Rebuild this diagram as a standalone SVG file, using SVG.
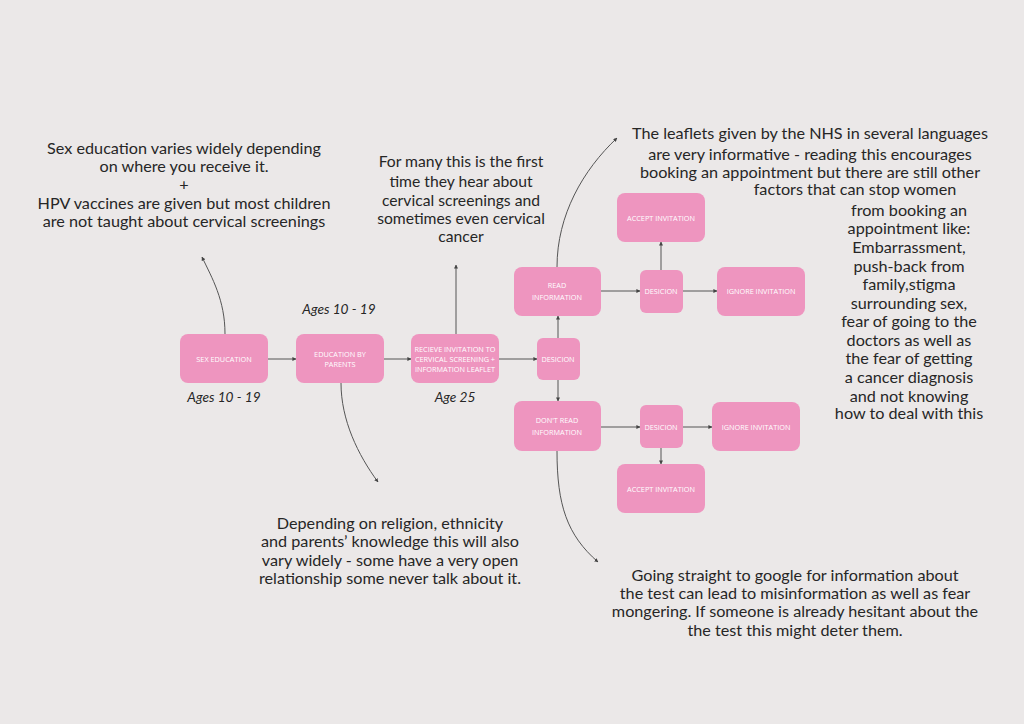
<svg xmlns="http://www.w3.org/2000/svg" width="1024" height="724" viewBox="0 0 1024 724">
<defs>
<marker id="ah" viewBox="0 0 10 10" refX="9" refY="5" markerWidth="4" markerHeight="4" orient="auto" markerUnits="userSpaceOnUse">
<path d="M0,0 L10,5 L0,10 z" fill="#444"/>
</marker>
<style>
.node{fill:#ee95bf;}
.nt{font-family:"Open Sans","Liberation Sans",sans-serif;font-size:7.3px;fill:#ffffff;text-anchor:middle;}
.ann{font-family:Lato,"Liberation Sans",sans-serif;font-size:16.2px;fill:#262626;text-anchor:middle;}
.ann2{font-family:Lato,"Liberation Sans",sans-serif;font-size:15.7px;fill:#262626;text-anchor:middle;}
.age{font-family:Lato,"Liberation Sans",sans-serif;font-size:13.7px;font-style:italic;fill:#262626;text-anchor:middle;}
.c{fill:none;stroke:#555;stroke-width:1;marker-end:url(#ah);}
</style>
</defs>
<rect width="1024" height="724" fill="#ebe8e8"/>

<g id="connectors">
<path class="c" d="M268,359 L296,359"/>
<path class="c" d="M384,359 L411,359"/>
<path class="c" d="M499,359 L537,359"/>
<path class="c" d="M558,338 L558,316"/>
<path class="c" d="M558,380 L558,401"/>
<path class="c" d="M601,291 L640,291"/>
<path class="c" d="M661,270 L661,242"/>
<path class="c" d="M683,291 L717,291"/>
<path class="c" d="M601,427 L640,427"/>
<path class="c" d="M683,427 L712,427"/>
<path class="c" d="M661,448 L661,464"/>
<path class="c" d="M225,334 C225,300 212,278 202,257"/>
<path class="c" d="M341,383 C341,420 358,455 378,482"/>
<path class="c" d="M456,334 L456,265"/>
<path class="c" d="M557,267 C557,215 583,170 617,138"/>
<path class="c" d="M557,451 C557,505 567,535 598,562"/>
</g>

<g id="n-sex-education">
<rect class="node" x="180" y="334" width="88" height="49" rx="8"/>
<text class="nt" x="224" y="362">SEX EDUCATION</text>
</g>
<g id="n-education-parents">
<rect class="node" x="296" y="334" width="88" height="49" rx="8"/>
<text class="nt" x="340" y="357">EDUCATION BY</text>
<text class="nt" x="340" y="367">PARENTS</text>
</g>
<g id="n-recieve">
<rect class="node" x="411" y="334" width="88" height="49" rx="8"/>
<text class="nt" x="455" y="352">RECIEVE INVITATION TO</text>
<text class="nt" x="455" y="362">CERVICAL SCREENING +</text>
<text class="nt" x="455" y="372">INFORMATION LEAFLET</text>
</g>
<g id="n-desicion-main">
<rect class="node" x="537" y="338" width="43" height="42" rx="6"/>
<text class="nt" x="558" y="362">DESICION</text>
</g>
<g id="n-read">
<rect class="node" x="514" y="267" width="87" height="49" rx="8"/>
<text class="nt" x="557" y="288">READ</text>
<text class="nt" x="557" y="300">INFORMATION</text>
</g>
<g id="n-dont-read">
<rect class="node" x="514" y="401" width="87" height="50" rx="8"/>
<text class="nt" x="557" y="423">DON'T READ</text>
<text class="nt" x="557" y="435">INFORMATION</text>
</g>
<g id="n-desicion-top">
<rect class="node" x="640" y="270" width="43" height="43" rx="6"/>
<text class="nt" x="661" y="294">DESICION</text>
</g>
<g id="n-accept-top">
<rect class="node" x="617" y="193" width="88" height="49" rx="8"/>
<text class="nt" x="661" y="221">ACCEPT INVITATION</text>
</g>
<g id="n-ignore-top">
<rect class="node" x="717" y="267" width="88" height="49" rx="8"/>
<text class="nt" x="761" y="294">IGNORE INVITATION</text>
</g>
<g id="n-desicion-bottom">
<rect class="node" x="640" y="405" width="43" height="43" rx="6"/>
<text class="nt" x="661" y="430">DESICION</text>
</g>
<g id="n-ignore-bottom">
<rect class="node" x="712" y="402" width="88" height="49" rx="8"/>
<text class="nt" x="756" y="430">IGNORE INVITATION</text>
</g>
<g id="n-accept-bottom">
<rect class="node" x="617" y="464" width="88" height="49" rx="8"/>
<text class="nt" x="661" y="492">ACCEPT INVITATION</text>
</g>

<g id="labels">
<text class="age" x="339" y="314">Ages 10 - 19</text>
<text class="age" x="224" y="402">Ages 10 - 19</text>
<text class="age" x="455" y="402">Age 25</text>

<text class="ann" x="184" y="154">Sex education varies widely depending</text>
<text class="ann" x="184" y="172">on where you receive it.</text>
<text class="ann" x="184" y="190">+</text>
<text class="ann" x="184" y="209">HPV vaccines are given but most children</text>
<text class="ann" x="184" y="227">are not taught about cervical screenings</text>

<text class="ann2" x="461" y="167">For many this is the first</text>
<text class="ann2" x="461" y="187">time they hear about</text>
<text class="ann2" x="461" y="206">cervical screenings and</text>
<text class="ann2" x="461" y="224">sometimes even cervical</text>
<text class="ann2" x="461" y="242">cancer</text>

<text class="ann" x="810" y="139">The leaflets given by the NHS in several languages</text>
<text class="ann" x="810" y="160">are very informative - reading this encourages</text>
<text class="ann" x="810" y="178">booking an appointment but there are still other</text>
<text class="ann" x="855" y="195">factors that can stop women</text>
<text class="ann" x="909" y="216">from booking an</text>
<text class="ann" x="909" y="234">appointment like:</text>
<text class="ann" x="909" y="253">Embarrassment,</text>
<text class="ann" x="909" y="272">push-back from</text>
<text class="ann" x="909" y="290">family,stigma</text>
<text class="ann" x="909" y="309">surrounding sex,</text>
<text class="ann" x="909" y="327">fear of going to the</text>
<text class="ann" x="909" y="346">doctors as well as</text>
<text class="ann" x="909" y="364">the fear of getting</text>
<text class="ann" x="909" y="383">a cancer diagnosis</text>
<text class="ann" x="909" y="402">and not knowing</text>
<text class="ann" x="909" y="419">how to deal with this</text>

<text class="ann" x="390" y="529">Depending on religion, ethnicity</text>
<text class="ann" x="390" y="547">and parents’ knowledge this will also</text>
<text class="ann" x="390" y="566">vary widely - some have a very open</text>
<text class="ann" x="390" y="584">relationship some never talk about it.</text>

<text class="ann" x="795" y="581">Going straight to google for information about</text>
<text class="ann" x="795" y="599">the test can lead to misinformation as well as fear</text>
<text class="ann" x="795" y="617">mongering. If someone is already hesitant about the</text>
<text class="ann" x="795" y="636">the test this might deter them.</text>
</g>
</svg>
